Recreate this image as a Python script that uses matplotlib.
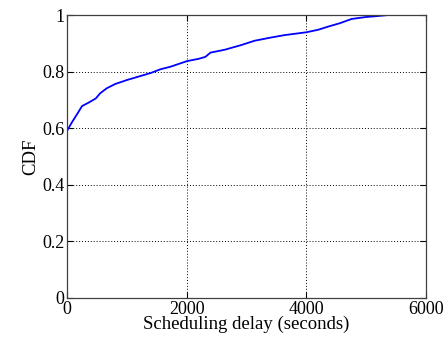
import matplotlib
matplotlib.use("Agg")
from matplotlib import pyplot

# CDF of scheduling delay
delaySeconds = [0, 80, 170, 251, 360, 481, 553, 665, 805, 1000, 1224, 1400, 1559, 1727,
                2006, 2200, 2313, 2397, 2632, 2900, 3135, 3400, 3638, 4002, 4200,
                4364, 4560, 4756, 5000, 5175, 5370]
cdfValues = [0.59, 0.62, 0.65, 0.678, 0.69, 0.705, 0.723, 0.741, 0.756, 0.77, 0.784,
             0.795, 0.808, 0.817, 0.837, 0.845, 0.852, 0.867, 0.877, 0.893, 0.909,
             0.92, 0.929, 0.939, 0.948, 0.959, 0.971, 0.986, 0.993, 0.996, 1.0]

xTicks = [0, 2000, 4000, 6000]
yTicks = [0, 0.2, 0.4, 0.6, 0.8, 1]

pyplot.rcParams['font.family'] = ['Liberation Serif', 'DejaVu Serif']
pyplot.rcParams['font.size'] = 13

fig = pyplot.figure(figsize=(4.48, 3.38), dpi=100)
ax = fig.add_axes([0.1496, 0.119, 0.8014, 0.8366])
ax.plot(delaySeconds, cdfValues, color=(0, 0, 1), linewidth=1.3)
ax.set_xlim(0, 6000)
ax.set_ylim(0, 1)
ax.set_xticks(xTicks)
ax.set_xticklabels([str(v) for v in xTicks])
ax.set_yticks(yTicks)
ax.set_yticklabels(['0', '0.2', '0.4', '0.6', '0.8', '1'])
ax.grid(True, color='black', linestyle=(0, (1, 2)), linewidth=0.7)
ax.tick_params(direction='in', top=True, right=True, length=4, pad=2)
for s in ax.spines.values():
    s.set_color('#404040')
    s.set_linewidth(0.9)
ax.set_xlabel('Scheduling delay (seconds)', fontsize=13.5, labelpad=-1)
ax.set_ylabel('CDF', fontsize=13.5, labelpad=2)

fig.savefig('out.png', dpi=100)
